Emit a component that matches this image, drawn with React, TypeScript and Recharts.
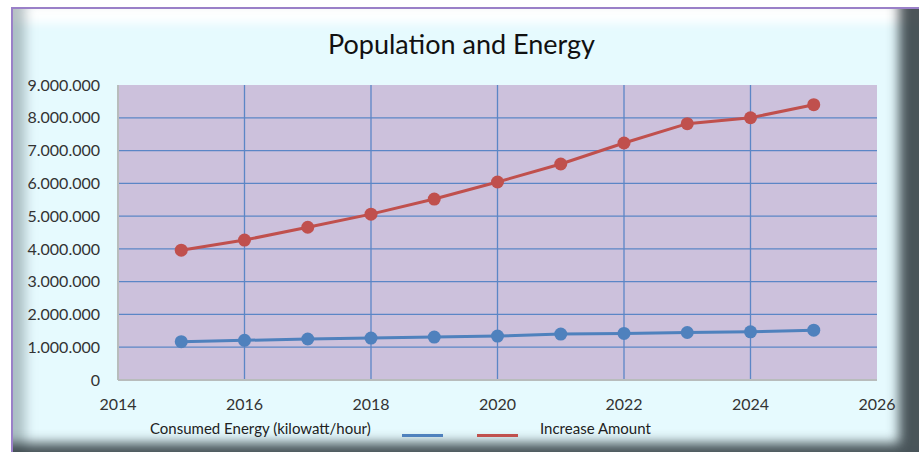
import { CartesianGrid, Line, LineChart, XAxis, YAxis } from 'recharts'

const years = [2015, 2016, 2017, 2018, 2019, 2020, 2021, 2022, 2023, 2024, 2025]
const consumedEnergy = [1170000, 1210000, 1250000, 1280000, 1310000, 1340000, 1400000, 1420000, 1450000, 1470000, 1520000]
const increaseAmount = [3960000, 4270000, 4660000, 5060000, 5520000, 6040000, 6590000, 7230000, 7820000, 8000000, 8400000]
const xTicks = [2014, 2016, 2018, 2020, 2022, 2024, 2026]
const yTicks = [0, 1000000, 2000000, 3000000, 4000000, 5000000, 6000000, 7000000, 8000000, 9000000]
const seriesNames = ['Consumed Energy (kilowatt/hour)', 'Increase Amount']

const data = years.map((year, i) => ({
  year,
  consumed: consumedEnergy[i],
  increase: increaseAmount[i],
}))

const BLUE = '#4f81bd'
const RED = '#c0504d'
const FONT = 'Lato, "Liberation Sans", sans-serif'

// dots as thousands separator, like 9.000.000
const formatNumber = (n: number) => String(n).replace(/\B(?=(\d{3})+(?!\d))/g, '.')

const App = () => {
  return (
    <div style={{ position: 'absolute', left: 0, top: 0, width: 919, height: 452, background: '#ffffff', fontFamily: FONT }}>
      {/* bevelled frame */}
      <div
        style={{
          position: 'absolute',
          left: 11,
          top: 7,
          width: 908,
          height: 445,
          boxSizing: 'border-box',
          background: '#e6fafe',
          borderTop: '2px solid #9a80c8',
          borderLeft: '2px solid #9a80c8',
          boxShadow:
            'inset -26px -15px 12px -6px rgba(45,55,60,0.85), inset 20px 0px 12px -8px rgba(120,140,145,0.55), inset 0px 20px 10px -6px rgba(255,255,255,0.95)',
        }}
      />
      <div
        style={{
          position: 'absolute',
          left: 0,
          top: 27,
          width: 923,
          textAlign: 'center',
          fontSize: 27,
          color: '#111',
        }}
      >
        Population and Energy
      </div>
      <div style={{ position: 'absolute', left: 0, top: 0 }}>
        <LineChart width={919} height={452} data={data} margin={{ top: 85, right: 42, bottom: 42, left: 0 }}>
          <CartesianGrid
            fill="#ccc1dc"
            stroke="#5b86c6"
            strokeWidth={1.3}
            verticalValues={[2016, 2018, 2020, 2022, 2024]}
            horizontalValues={[1000000, 2000000, 3000000, 4000000, 5000000, 6000000, 7000000, 8000000]}
          />
          <XAxis
            dataKey="year"
            type="number"
            domain={[2014, 2026]}
            ticks={xTicks}
            height={30}
            tickSize={0}
            tickMargin={19}
            axisLine={{ stroke: '#b8bcbc', strokeWidth: 2 }}
            tick={{ fill: '#333', fontSize: 16, fontFamily: FONT }}
          />
          <XAxis xAxisId="top" orientation="top" type="number" domain={[2014, 2026]} height={0} tick={false} tickLine={false} axisLine={{ stroke: '#f0aa70', strokeWidth: 2 }} />
          <YAxis
            type="number"
            domain={[0, 9000000]}
            ticks={yTicks}
            width={118}
            tickSize={0}
            tickMargin={18}
            tickFormatter={formatNumber}
            axisLine={{ stroke: '#b8bcbc', strokeWidth: 2 }}
            tick={{ fill: '#333', fontSize: 16, fontFamily: FONT }}
          />
          <YAxis yAxisId="right" orientation="right" domain={[0, 9000000]} width={0} tick={false} tickLine={false} axisLine={{ stroke: '#f0aa70', strokeWidth: 2 }} />
          <Line
            dataKey="consumed"
            name={seriesNames[0]}
            stroke={BLUE}
            strokeWidth={3}
            dot={{ r: 6.5, fill: BLUE, stroke: BLUE, strokeWidth: 0 }}
            isAnimationActive={false}
          />
          <Line
            dataKey="increase"
            name={seriesNames[1]}
            stroke={RED}
            strokeWidth={3}
            dot={{ r: 6.5, fill: RED, stroke: RED, strokeWidth: 0 }}
            isAnimationActive={false}
          />
        </LineChart>
      </div>
      {/* legend */}
      <div style={{ position: 'absolute', left: 0, top: 0, fontSize: 15, color: '#222' }}>
        <span style={{ position: 'absolute', left: 150, top: 419, whiteSpace: 'nowrap' }}>{seriesNames[0]}</span>
        <span style={{ position: 'absolute', left: 402, top: 434, width: 41, height: 3, background: BLUE }} />
        <span style={{ position: 'absolute', left: 477, top: 434, width: 41, height: 3, background: RED }} />
        <span style={{ position: 'absolute', left: 540, top: 419, whiteSpace: 'nowrap' }}>{seriesNames[1]}</span>
      </div>
    </div>
  )
}

export default App
